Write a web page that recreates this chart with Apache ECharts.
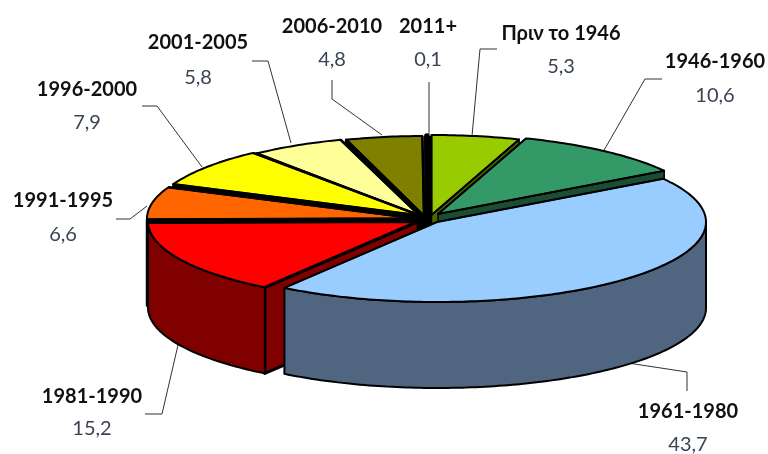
<!DOCTYPE html>
<html>
<head>
<meta charset="utf-8">
<style>html,body{margin:0;padding:0;background:#fff}#c{width:768px;height:454px}</style>
<script src="https://cdn.jsdelivr.net/npm/echarts@6/dist/echarts.min.js"></script>
</head>
<body>
<div id="c"></div>
<script>
// ---- data ----
var categories = ['Πριν το 1946','1946-1960','1961-1980','1981-1990','1991-1995','1996-2000','2001-2005','2006-2010','2011+'];
var values = [5.3,10.6,43.7,15.2,6.6,7.9,5.8,4.8,0.1];

// ---- styles ----
var topColors  = ['#99cc00','#339966','#99ccff','#ff0000','#ff6600','#ffff00','#ffff99','#808000','#000000'];
var wallColors = ['#4d6600','#1a4d33','#4f6580','#800000','#000000','#000000','#000000','#000000','#000000'];
// ---- layout: exploded slice centre and radius, back-to-front paint order ----
var sliceCx = [431.5,438,437,418,417,420,420,424,428.5];
var sliceCy = [215,214,222,221.5,218.5,215.5,216,216,216];
var sliceRx = [268,269,269,270,270,268,262,257,262];
var radialW = [1.5,1.5,1.5,3,2.5,2.5,2.5,2.5,5.5];
var paintOrder = [8,7,6,5,4,0,1,3,2];
var RY = 80, DEPTH = 86;
var labelX = [561,715,688,92,63,87,198,332,428];
var nameY  = [34,62,412,397,201,90,43,27,27];
var valueY = [67,96,445,429,235,123,78,60,60];
var leaders = [
  [[497,49],[480,49],[472,136]],
  [[662,79],[645,79],[603,152]],
  [[687,391],[687,372],[628,363]],
  [[145,414],[162,414],[178,345]],
  [[116,219],[130,219],[147,206]],
  [[142,106],[157,106],[202,167]],
  [[252,61],[268,61],[291,143]],
  [[332,80],[332,99],[382,135]],
  [[429,82],[429,135]]
];

var total = values.reduce(function(a,b){return a+b;},0);
var startAt = [];
values.reduce(function(a,v,i){startAt[i]=a;return a+v;},0);

function pt(i,deg,drop){
  var r = deg*Math.PI/180;
  return [sliceCx[i]+sliceRx[i]*Math.sin(r), sliceCy[i]-RY*Math.cos(r)+(drop||0)];
}
function arc(i,a0,a1,drop){
  var out=[], n=Math.max(2,Math.ceil(Math.abs(a1-a0)));
  for(var k=0;k<=n;k++) out.push(pt(i,a0+(a1-a0)*k/n,drop));
  return out;
}
function renderSlice(params,api){
  var i=api.value(0), v=api.value(1);
  var a0=startAt[i]/total*360, a1=a0+v/total*360;
  var apex=[sliceCx[i],sliceCy[i]], kids=[];
  var edge={stroke:'#000',lineWidth:2,lineJoin:'round'};
  function wall(a){
    var p=pt(i,a), q=pt(i,a,DEPTH);
    kids.push({type:'polygon',shape:{points:[apex,p,q,[apex[0],apex[1]+DEPTH]]},
      style:{fill:wallColors[i],stroke:'#000',lineWidth:radialW[i],lineJoin:'round'}});
  }
  // side walls facing the viewer
  if(Math.sin(a1*Math.PI/180)>0.001) wall(a1);
  if(Math.sin(a0*Math.PI/180)<-0.001) wall(a0);
  var w0=Math.max(a0,90), w1=Math.min(a1,270);
  if(w1>w0){
    kids.push({type:'polygon',shape:{points:arc(i,w0,w1,0).concat(arc(i,w1,w0,DEPTH))},
      style:Object.assign({fill:wallColors[i]},edge)});
  }
  // top face
  kids.push({type:'polygon',shape:{points:[apex].concat(arc(i,a0,a1,0))},
    style:Object.assign({fill:topColors[i]},edge)});
  kids.push({type:'polyline',shape:{points:[pt(i,a0),apex,pt(i,a1)]},
    style:{fill:null,stroke:'#000',lineWidth:radialW[i],lineJoin:'round'}});
  return {type:'group',children:kids};
}
function renderLabel(params,api){
  var i=api.value(0), v=api.value(1);
  var fmt=v.toFixed(1).replace('.',',');
  return {type:'group',children:[
    {type:'polyline',shape:{points:leaders[i]},style:{fill:null,stroke:'#333',lineWidth:1}},
    {type:'text',style:{text:categories[i],x:labelX[i],y:nameY[i],align:'center',verticalAlign:'middle',
      font:'bold 20px Lato',fill:'#111'}},
    {type:'text',style:{text:fmt,x:labelX[i],y:valueY[i],align:'center',verticalAlign:'middle',
      font:'20px Lato',fill:'#3a4452'}}
  ]};
}
var chart=echarts.init(document.getElementById('c'),null,{renderer:'canvas'});
chart.setOption({
  animation:false,
  backgroundColor:'#fff',
  series:[
    {type:'custom',coordinateSystem:'none',renderItem:renderLabel,silent:true,z:1,
     data:values.map(function(v,i){return [i,v];})},
    {type:'custom',coordinateSystem:'none',renderItem:renderSlice,silent:true,z:2,
     data:paintOrder.map(function(i){return [i,values[i]];})}
  ]
});
</script>
</body>
</html>
